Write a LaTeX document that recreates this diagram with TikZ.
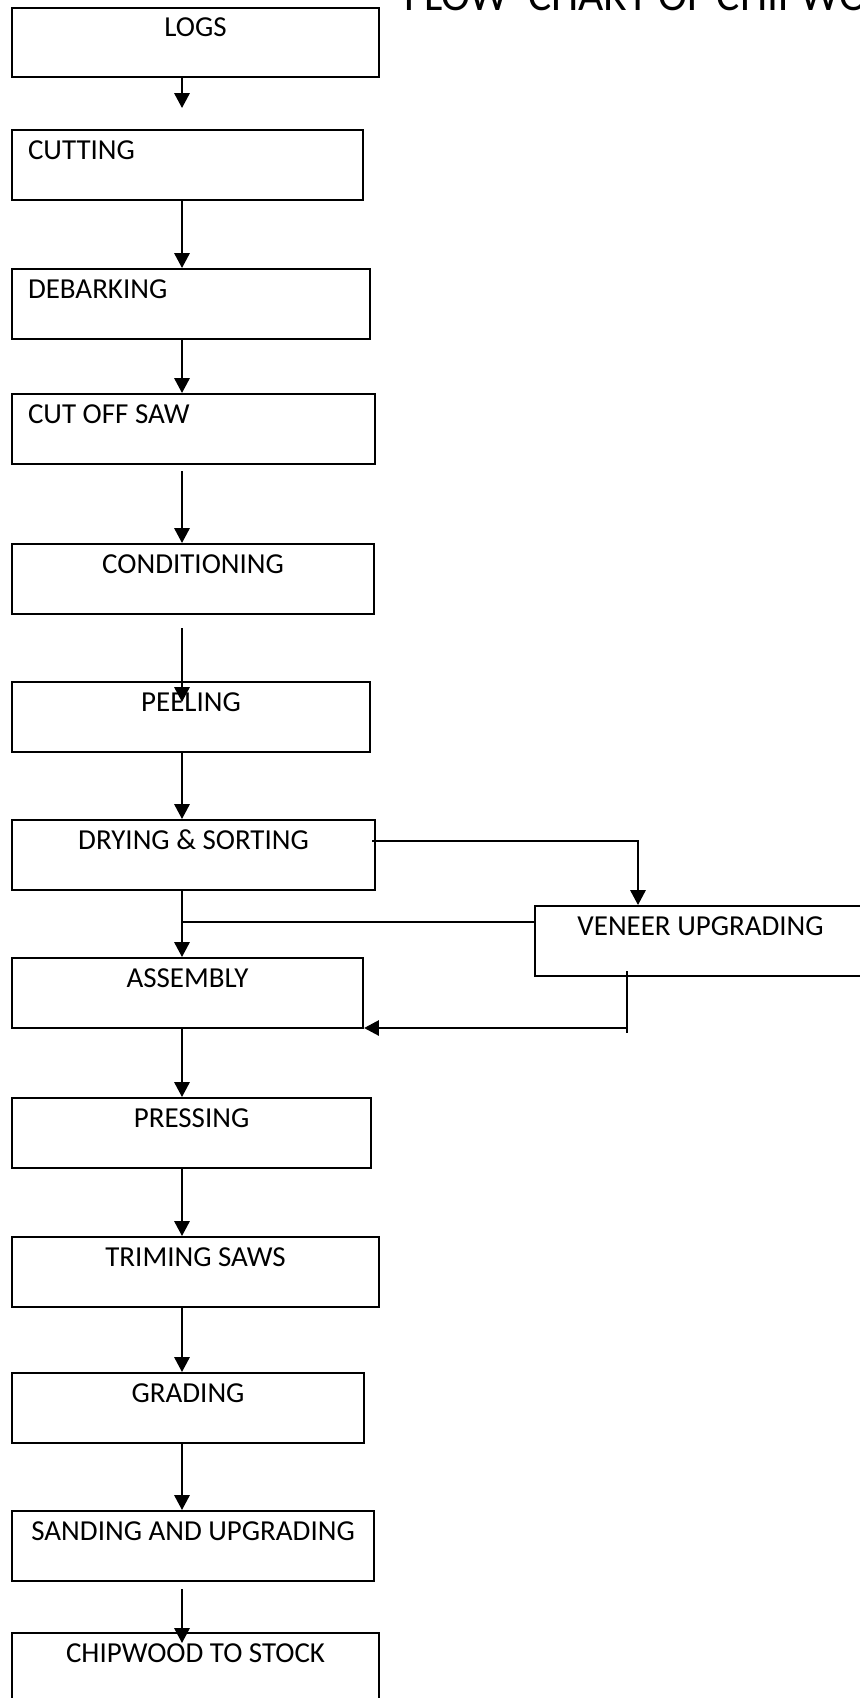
\documentclass[tikz,border=0pt]{standalone}
\usepackage{fontspec}
\setmainfont{Carlito}
\usetikzlibrary{arrows.meta}

\begin{document}
\begin{tikzpicture}[>={Triangle[length=3.7mm,width=3.8mm]},line width=1.5pt,
  stage/.style={draw,anchor=north west,inner ysep=0pt,text height=7.3mm,text depth=10.1mm,font=\fontsize{20.6}{24}\selectfont},
  lstage/.style={stage,align=flush left,inner xsep=4mm,text width=#1}]
\useasboundingbox (0,0) rectangle (21.5,-42.45);
\coordinate (spine) at (4.55,0);
\node[anchor=base west,inner sep=0pt,font=\fontsize{31}{36}\selectfont] (title) at (10.075,-0.25) {FLOW\ \ CHART OF CHIPWOOD};
\node[stage,minimum width=9.175cm] (logs) at (0.275,-0.1625) {LOGS};
\node[lstage=7.975cm] (cutting) at (0.275,-3.225) {CUTTING};
\node[lstage=8.15cm] (debark) at (0.275,-6.7) {DEBARKING};
\node[lstage=8.275cm] (cutoff) at (0.275,-9.825) {CUT OFF SAW};
\node[stage,minimum width=9.05cm] (cond) at (0.275,-13.575) {CONDITIONING};
\node[stage,minimum width=8.95cm] (peel) at (0.275,-17.025) {PEELING};
\node[stage,minimum width=9.075cm] (dry) at (0.275,-20.475) {DRYING \& SORTING};
\node[stage,minimum width=8.275cm] (veneer) at (13.35,-22.625) {VENEER UPGRADING};
\node[stage,minimum width=8.775cm] (assem) at (0.275,-23.925) {ASSEMBLY};
\node[stage,minimum width=8.975cm] (press) at (0.275,-27.425) {PRESSING};
\node[stage,minimum width=9.175cm] (trim) at (0.275,-30.9) {TRIMING SAWS};
\node[stage,minimum width=8.8cm] (grade) at (0.275,-34.3) {GRADING};
\node[stage,minimum width=9.05cm] (sand) at (0.275,-37.75) {SANDING AND UPGRADING};
\node[stage,minimum width=9.175cm] (stock) at (0.275,-40.8) {CHIPWOOD TO STOCK};
\coordinate (t1) at (4.55,-2.7);
\coordinate (s4) at (4.55,-11.775);
\coordinate (s5) at (4.55,-15.7);
\coordinate (t5) at (4.55,-17.55);
\coordinate (br) at (9.3,-21.025);
\coordinate (brx) at (15.95,-21.025);
\coordinate (jn) at (13.35,-23.05);
\coordinate (rt) at (15.675,-24.275);
\coordinate (rb) at (15.675,-25.825);
\coordinate (ret) at (15.675,-25.7);
\coordinate (s15) at (4.55,-39.725);
\coordinate (t15) at (4.55,-41.075);
\draw[->] (logs.south -| spine) -- (t1);
\draw[->] (cutting.south -| spine) -- (debark.north -| spine);
\draw[->] (debark.south -| spine) -- (cutoff.north -| spine);
\draw[->] (s4) -- (cond.north -| spine);
\draw[->] (s5) -- (t5);
\draw[->] (peel.south -| spine) -- (dry.north -| spine);
\draw[->] (dry.south -| spine) -- (assem.north -| spine);
\draw[->] (br) -- (brx) -- (veneer.north -| brx);
\draw (jn) -- (jn -| spine);
\draw (rt) -- (rb);
\draw[->] (ret) -- (ret -| assem.east);
\draw[->] (assem.south -| spine) -- (press.north -| spine);
\draw[->] (press.south -| spine) -- (trim.north -| spine);
\draw[->] (trim.south -| spine) -- (grade.north -| spine);
\draw[->] (grade.south -| spine) -- (sand.north -| spine);
\draw[->] (s15) -- (t15);
\end{tikzpicture}
\end{document}
